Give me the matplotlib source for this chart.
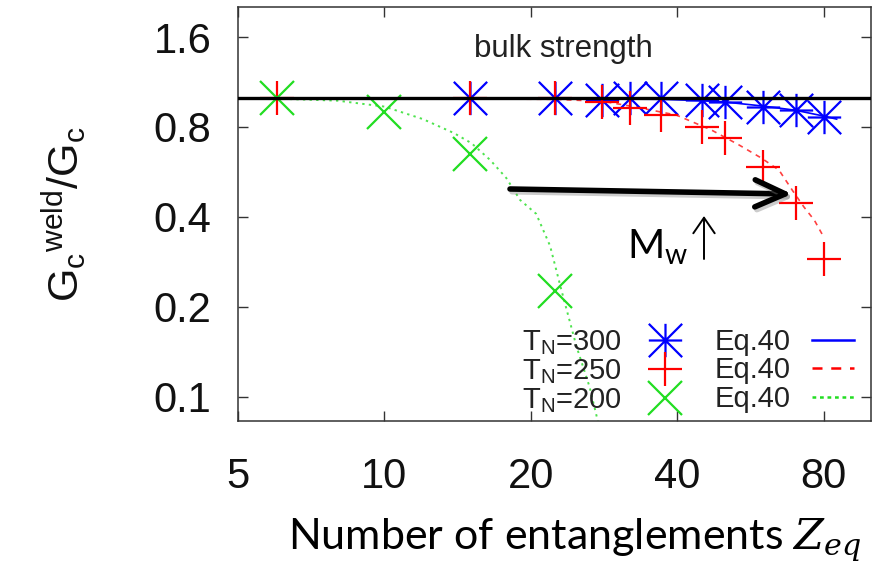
import matplotlib
matplotlib.use("Agg")
import matplotlib.pyplot as plt
import matplotlib.patheffects as pe
from matplotlib.lines import Line2D
from matplotlib.path import Path
from matplotlib.patches import ArrowStyle
from matplotlib.ticker import FixedLocator, FixedFormatter, NullLocator

plt.rcParams["font.family"] = ["Liberation Sans", "DejaVu Sans"]
plt.rcParams["mathtext.fontset"] = "custom"
plt.rcParams["mathtext.rm"] = "Liberation Sans"
plt.rcParams["mathtext.it"] = "DejaVu Serif:italic"
plt.rcParams["mathtext.bf"] = "Liberation Sans:bold"

# Simulation data: weld toughness relative to bulk, vs. entanglements
z_300 = [15, 22.4, 28, 32, 37, 45, 50, 60, 70, 80]
g_300 = [1.0, 1.0, 0.985, 1.0, 1.0, 0.985, 0.973, 0.936, 0.912, 0.866]

z_250 = [6, 15, 22.4, 28, 32, 37, 45, 50, 60, 70, 80]
g_250 = [1.0, 1.0, 1.0, 0.973, 0.924, 0.877, 0.802, 0.733, 0.589, 0.445, 0.290]

z_200 = [6, 10, 15, 22.4]
g_200 = [1.0, 0.90, 0.648, 0.227]

# Eq.40 predictions
zfit_300 = [6, 15, 22.4, 28, 37, 45, 50, 60, 70, 80, 85]
gfit_300 = [0.998, 0.997, 0.995, 0.993, 0.99, 0.98, 0.97, 0.94, 0.91, 0.87, 0.85]

zfit_250 = [6, 15, 22.4, 28.1, 32.5, 39.8, 46.9, 53.6, 59.5, 64.7, 69, 72.8, 76.5, 79.3]
gfit_250 = [0.995, 0.993, 0.99, 0.975, 0.936, 0.877, 0.783, 0.696, 0.63, 0.574,
            0.49, 0.432, 0.39, 0.351]

zfit_200 = [6, 8, 10, 12, 13.9, 15.1, 16.5, 17.8, 19, 20.5, 21.9, 23.1, 24.8, 26.4, 27.6]
gfit_200 = [0.995, 0.98, 0.936, 0.85, 0.763, 0.706, 0.62, 0.54, 0.456, 0.41, 0.32,
            0.228, 0.148, 0.108, 0.08]

bulk_level = 1.0

x_ticks = [5, 10, 20, 40, 80]
x_labels = ["5", "10", "20", "40", "80"]
y_ticks = [0.1, 0.2, 0.4, 0.8, 1.6]
y_labels = ["0.1", "0.2", "0.4", "0.8", "1.6"]

BLUE = "#0000ff"
RED = "#ff0000"
GREEN = "#22dd22"

# asterisk marker: plus and cross combined
star_path = Path(
    [(-1, 0), (1, 0), (0, -1), (0, 1), (-1, -1), (1, 1), (-1, 1), (1, -1)],
    [Path.MOVETO, Path.LINETO] * 4,
)

W, H, DPI = 882, 568, 100
fig = plt.figure(figsize=(W / DPI, H / DPI), dpi=DPI)
L, R, T, B = 238, 871, 7, 421
ax = fig.add_axes([L / W, 1 - B / H, (R - L) / W, (B - T) / H])


def ax_xy(px, py):
    return ((px - L) / (R - L), (B - py) / (B - T))


ax.set_xscale("log")
ax.set_yscale("log")
ax.set_xlim(5, 100)
ax.set_ylim(0.0831, 2.016)

ms = 24
mew = 1.6

ax.plot(zfit_300, gfit_300, color=BLUE, lw=1.2, zorder=2)
ax.plot(zfit_250, gfit_250, color=RED, lw=1.2, dashes=(3, 3), alpha=0.75, zorder=2)
ax.plot(zfit_200, gfit_200, color=GREEN, lw=1.4, dashes=(1.2, 2.2), alpha=0.8, zorder=2)

ax.plot(z_300, g_300, ls="none", marker=star_path, ms=ms, mew=mew, color=BLUE, zorder=3)
ax.plot(z_250, g_250, ls="none", marker="+", ms=ms + 1, mew=mew, color=RED, zorder=4)
ax.plot(z_200, g_200, ls="none", marker="x", ms=ms, mew=mew, color=GREEN, zorder=4)

ax.axhline(bulk_level, color="black", lw=2.4, zorder=6)
ax.text(*ax_xy(563, 57), "bulk strength", transform=ax.transAxes,
        ha="center", va="baseline", fontsize=22.5, color="#222222")

# ticks
for axis in (ax.xaxis, ax.yaxis):
    axis.set_minor_locator(NullLocator())
ax.xaxis.set_major_locator(FixedLocator(x_ticks))
ax.xaxis.set_major_formatter(FixedFormatter(x_labels))
ax.yaxis.set_major_locator(FixedLocator(y_ticks))
ax.yaxis.set_major_formatter(FixedFormatter(y_labels))
ax.tick_params(which="both", direction="in", top=True, right=True,
               length=7.2, width=1.0, color="#333333", labelsize=30,
               labelcolor="#111111")
ax.tick_params(axis="y", pad=19)
ax.tick_params(axis="x", pad=26)
for s in ax.spines.values():
    s.set_linewidth(1.1)
    s.set_color("#333333")

ax.set_ylabel(r"G$_\mathregular{c}$$^\mathregular{weld}$/G$_\mathregular{c}$",
              fontsize=31, color="#111111")
ax.yaxis.set_label_coords(ax_xy(88, 0)[0], 0.5)

fig.text(575 / W, 1 - 549 / H, r"Number of entanglements $Z_{eq}$",
         ha="center", va="baseline", fontsize=31,
         family=["Lato", "DejaVu Sans"])

# legend
h_markers = [
    Line2D([], [], ls="none", marker=star_path, ms=ms, mew=mew, color=BLUE),
    Line2D([], [], ls="none", marker="+", ms=ms + 1, mew=mew, color=RED),
    Line2D([], [], ls="none", marker="x", ms=ms, mew=mew, color=GREEN),
]
h_lines = [
    Line2D([], [], color=BLUE, lw=1.8),
    Line2D([], [], color=RED, lw=1.8, dashes=(4, 3.5)),
    Line2D([], [], color=GREEN, lw=1.8, dashes=(1.5, 1.5)),
]
labels = [r"T$_\mathregular{N}$=300", r"T$_\mathregular{N}$=250", r"T$_\mathregular{N}$=200",
          "Eq.40", "Eq.40", "Eq.40"]
leg = ax.legend(h_markers + h_lines, labels, ncol=2, markerfirst=False,
                frameon=False, fontsize=21, loc="lower right",
                bbox_to_anchor=ax_xy(869, 430), borderpad=0,
                handlelength=1.45, handletextpad=0.75, columnspacing=0.95,
                labelspacing=0.02)
for t in leg.get_texts():
    t.set_color("#222222")

# annotation arrows
shadow = [pe.SimpleLineShadow(offset=(1.5, -2), shadow_color="gray", alpha=0.4), pe.Normal()]
ax.annotate("", xy=ax_xy(792, 194), xytext=ax_xy(510, 189),
            xycoords="axes fraction", textcoords="axes fraction",
            arrowprops=dict(arrowstyle=ArrowStyle("->", head_length=1.45, head_width=0.65),
                            mutation_scale=15, lw=4, color="black",
                            capstyle="round", joinstyle="round",
                            shrinkA=0, shrinkB=0, path_effects=shadow),
            zorder=8)
ax.annotate("", xy=ax_xy(704, 216), xytext=ax_xy(704, 259),
            xycoords="axes fraction", textcoords="axes fraction",
            arrowprops=dict(arrowstyle=ArrowStyle("->", head_length=0.8, head_width=0.55),
                            mutation_scale=14, lw=1.4, color="black",
                            shrinkA=0, shrinkB=0),
            zorder=8)
ax.text(*ax_xy(688, 258), r"M$_\mathregular{w}$", transform=ax.transAxes,
        ha="right", va="baseline", fontsize=29, family=["Lato", "DejaVu Sans"])

fig.savefig("out.png", dpi=DPI)
